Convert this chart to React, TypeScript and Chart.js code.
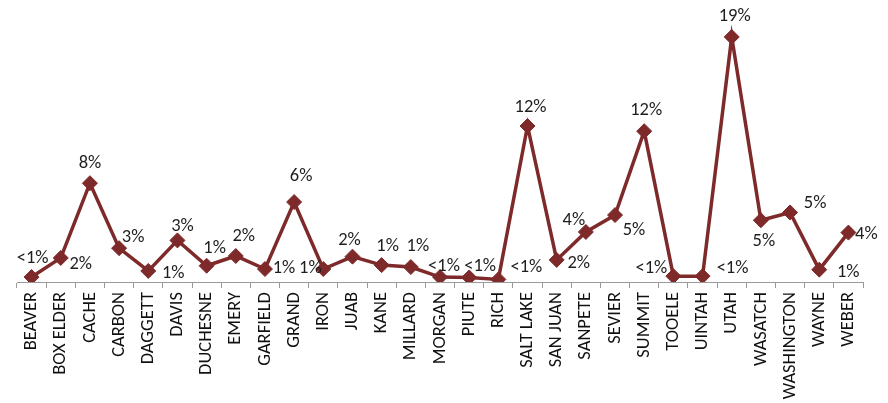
import React, { useEffect, useRef } from "react";
import { Chart, registerables } from "chart.js";

Chart.register(...registerables);

const COUNTIES = [
  "BEAVER", "BOX ELDER", "CACHE", "CARBON", "DAGGETT", "DAVIS", "DUCHESNE", "EMERY",
  "GARFIELD", "GRAND", "IRON", "JUAB", "KANE", "MILLARD", "MORGAN", "PIUTE", "RICH",
  "SALT LAKE", "SAN JUAN", "SANPETE", "SEVIER", "SUMMIT", "TOOELE", "UINTAH", "UTAH",
  "WASATCH", "WASHINGTON", "WAYNE", "WEBER",
];

const SHARE = [
  0.38, 1.85, 7.6, 2.6, 0.85, 3.2, 1.25, 2.0,
  1.0, 6.15, 1.0, 1.95, 1.3, 1.15, 0.38, 0.35, 0.2,
  12.0, 1.7, 3.85, 5.15, 11.6, 0.45, 0.45, 18.85,
  4.75, 5.35, 0.95, 3.8,
];

const SHARE_LABELS = [
  "<1%", "2%", "8%", "3%", "1%", "3%", "1%", "2%",
  "1%", "6%", "1%", "2%", "1%", "1%", "<1%", "<1%", "<1%",
  "12%", "2%", "4%", "5%", "12%", "<1%", "<1%", "19%",
  "5%", "5%", "1%", "4%",
];

// relative label placement (dx, dy) from each point
const LABEL_OFFSETS: [number, number][] = [
  [1, -19], [20, 6], [0, -20], [14, -11], [25, 2], [5, -14], [8, -17], [8, -20],
  [19, -1], [7, -26], [-13, -1], [-3, -16], [6, -19], [7, -21], [4, -11], [11, -11], [28, -12],
  [3, -19], [22, 3], [-12, -12], [19, 15], [2, -21], [-22, -8], [30, -8], [3, -21],
  [3, 21], [25, -9], [29, 3], [18, 2],
];

const LINE_COLOR = "#7e2a2a";
const FONT_FAMILY = "Carlito, Lato, 'Open Sans', sans-serif";

const labelPlugin = {
  id: "pointLabels",
  afterDatasetsDraw(chart: any) {
    const ctx = chart.ctx;
    const meta = chart.getDatasetMeta(0);
    ctx.save();
    ctx.font = `18.5px ${FONT_FAMILY}`;
    ctx.fillStyle = "#1e1e1e";
    ctx.textAlign = "center";
    ctx.textBaseline = "middle";
    meta.data.forEach((pt: any, i: number) => {
      const [dx, dy] = LABEL_OFFSETS[i] || [0, -20];
      ctx.fillText(SHARE_LABELS[i], pt.x + dx, pt.y + dy);
    });
    ctx.restore();
  },
};

export default function App() {
  const canvasRef = useRef<HTMLCanvasElement | null>(null);

  useEffect(() => {
    const canvas = canvasRef.current;
    if (!canvas) return;
    const chart = new Chart(canvas, {
      type: "line",
      data: {
        labels: COUNTIES,
        datasets: [
          {
            data: SHARE,
            borderColor: LINE_COLOR,
            backgroundColor: LINE_COLOR,
            borderWidth: 3.5,
            pointStyle: "rectRot",
            pointRadius: 7.5,
            pointBorderWidth: 1,
            pointBackgroundColor: LINE_COLOR,
            pointBorderColor: LINE_COLOR,
            tension: 0,
            fill: false,
          },
        ],
      },
      options: {
        responsive: false,
        animation: false,
        events: [],
        layout: { padding: { left: 17, right: 25, top: 22, bottom: 0 } },
        plugins: {
          legend: { display: false },
          tooltip: { enabled: false },
          title: { display: false },
        },
        scales: {
          x: {
            type: "category",
            offset: true,
            grid: {
              offset: true,
              drawOnChartArea: false,
              drawTicks: true,
              tickLength: 6,
              color: "#9a9a9a",
            },
            border: { display: true, color: "#9a9a9a", width: 1 },
            ticks: {
              autoSkip: false,
              minRotation: 90,
              maxRotation: 90,
              padding: 4,
              color: "#111111",
              font: { family: FONT_FAMILY, size: 18.5 },
            },
            afterFit: (scale: any) => {
              scale.height = 121;
            },
          },
          y: {
            display: false,
            min: 0,
            max: 20,
          },
        },
      },
      plugins: [labelPlugin],
    });
    return () => chart.destroy();
  }, []);

  return (
    <div style={{ position: "absolute", left: 0, top: 0, width: 888, height: 403, background: "#fff" }}>
      <canvas ref={canvasRef} width={888} height={403} style={{ display: "block" }} />
    </div>
  );
}
